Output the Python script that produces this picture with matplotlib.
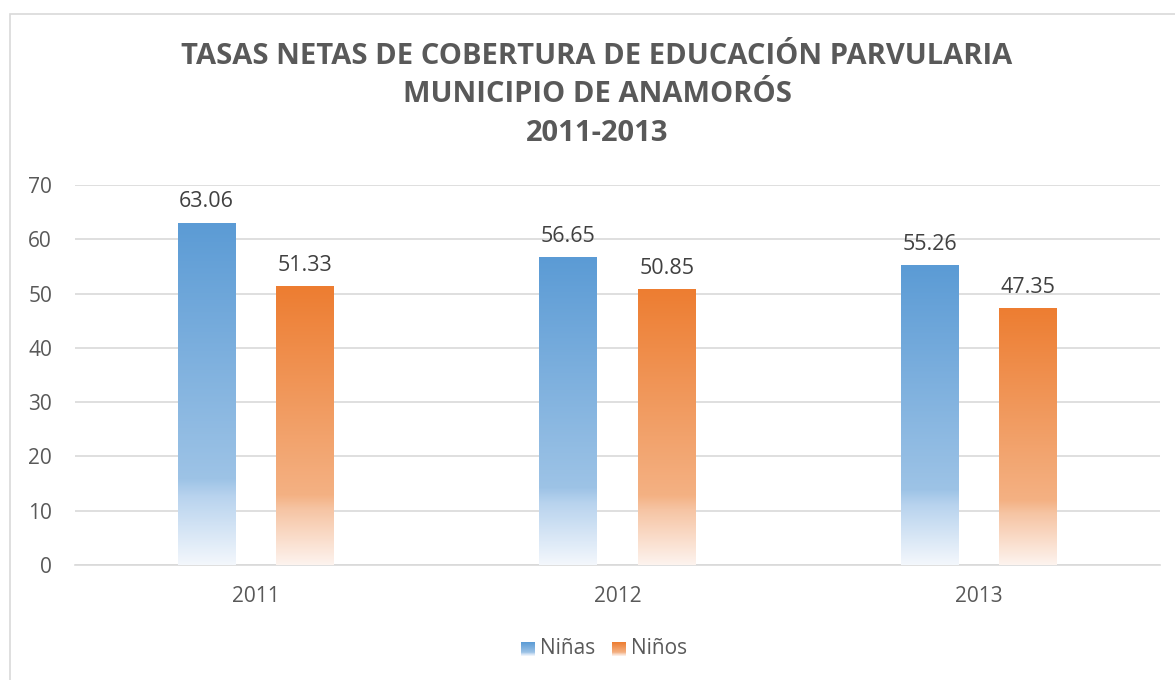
import numpy as np
import matplotlib.pyplot as plt
from matplotlib.patches import Rectangle
from matplotlib.colors import LinearSegmentedColormap

years = ['2011', '2012', '2013']
ninas = [63.06, 56.65, 55.26]
ninos = [51.33, 50.85, 47.35]

plt.rcParams['font.family'] = ['Open Sans', 'DejaVu Sans']

blue_cmap = LinearSegmentedColormap.from_list(
    'b', [(0.0, '#F3F7FC'), (0.2, '#B8D3EE'), (0.25, '#9DC3E6'), (1.0, '#5B9BD5')])
orange_cmap = LinearSegmentedColormap.from_list(
    'o', [(0.0, '#FDF3EE'), (0.2, '#F6C4A3'), (0.25, '#F4B183'), (1.0, '#ED7D31')])

fig = plt.figure(figsize=(11.75, 6.8), dpi=100)
fig.patches.append(Rectangle((10 / 1175, -0.1), 1.2, 1 - 14 / 680 + 0.1,
                             transform=fig.transFigure, fill=False,
                             edgecolor='#D9D9D9', linewidth=1.2))

ax = fig.add_axes([75 / 1175, 115 / 680, 1085 / 1175, 380 / 680])
x = np.arange(len(years))
width = 0.16
offset = 0.136
grad = np.linspace(0, 1, 256).reshape(-1, 1)

def gradient_bars(xs, vals, cmap):
    bars = ax.bar(xs, vals, width, color='none', zorder=3)
    for b, v in zip(bars, vals):
        im = ax.imshow(grad, cmap=cmap, origin='lower', aspect='auto',
                       extent=(b.get_x(), b.get_x() + b.get_width(), 0, v),
                       zorder=3)
        im.set_clip_path(b)
        ax.text(b.get_x() + b.get_width() / 2, v + 1.9, f'{v:.2f}',
                ha='center', va='bottom', fontsize=15.5, color='#404040')
    return bars

gradient_bars(x - offset, ninas, blue_cmap)
gradient_bars(x + offset, ninos, orange_cmap)

ax.set_xlim(-0.5, 2.5)
ax.set_ylim(0, 70)
ax.set_yticks(range(0, 71, 10))
ax.set_xticks(x)
ax.set_xticklabels(years)
ax.yaxis.grid(True, color='#D9D9D9', linewidth=1.2, zorder=0)
ax.set_axisbelow(True)
for s in ['top', 'right', 'left']:
    ax.spines[s].set_visible(False)
ax.spines['bottom'].set_color('#D9D9D9')
ax.spines['bottom'].set_linewidth(1.2)
ax.tick_params(length=0, labelsize=15, colors='#595959')
ax.tick_params(axis='y', pad=16.5)
ax.tick_params(axis='x', pad=15)

fig.text(597 / 1175, 1 - 95 / 680, 'TASAS NETAS DE COBERTURA DE EDUCACIÓN PARVULARIA\n'
         'MUNICIPIO DE ANAMORÓS\n2011-2013', ha='center', va='center',
         fontsize=21, fontweight='bold', color='#595959', linespacing=1.42)

# legend
lx = [521, 612]
labels = ['Niñas', 'Niños']
cmaps = [blue_cmap, orange_cmap]
for px, lab, cm in zip(lx, labels, cmaps):
    lax = fig.add_axes([px / 1175, (680 - 656) / 680, 14 / 1175, 14 / 680])
    lax.imshow(np.linspace(0.15, 1, 50).reshape(-1, 1), cmap=cm, origin='lower',
               aspect='auto', extent=(0, 1, 0, 1))
    lax.axis('off')
    fig.text((px + 19) / 1175, 1 - 648 / 680, lab, ha='left', va='center',
             fontsize=15, color='#595959')

fig.savefig('out.png', dpi=100)
